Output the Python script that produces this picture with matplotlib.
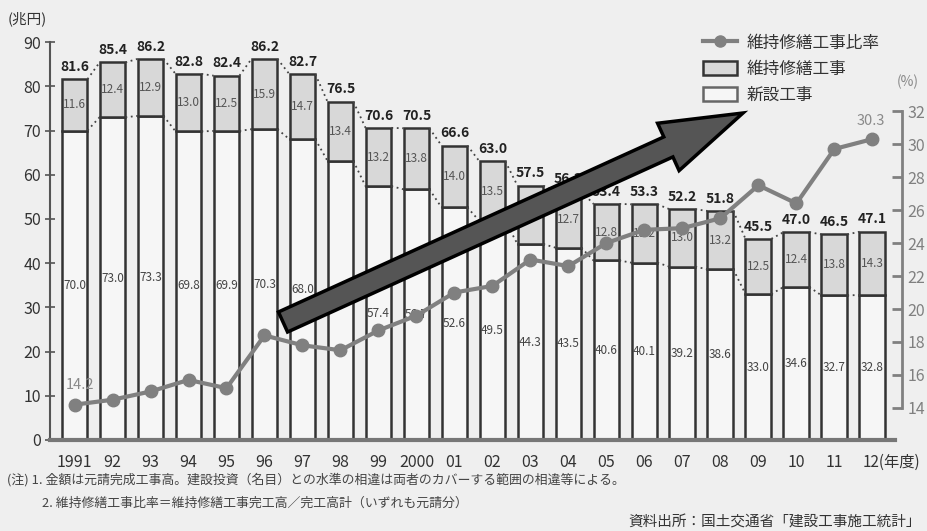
import matplotlib
matplotlib.use('Agg')
import matplotlib.pyplot as plt
from matplotlib.lines import Line2D
from matplotlib.patches import Patch, FancyArrow
from matplotlib.transforms import IdentityTransform

plt.rcParams['font.family'] = ['Noto Sans CJK JP', 'DejaVu Sans']

# 建設工事施工統計 (兆円, 年度)
years = ['1991', '92', '93', '94', '95', '96', '97', '98', '99', '2000',
         '01', '02', '03', '04', '05', '06', '07', '08', '09', '10', '11', '12']
new_build = [70.0, 73.0, 73.3, 69.8, 69.9, 70.3, 68.0, 63.1, 57.4, 56.7, 52.6,
             49.5, 44.3, 43.5, 40.6, 40.1, 39.2, 38.6, 33.0, 34.6, 32.7, 32.8]
maintenance = [11.6, 12.4, 12.9, 13.0, 12.5, 15.9, 14.7, 13.4, 13.2, 13.8, 14.0,
               13.5, 13.2, 12.7, 12.8, 13.2, 13.0, 13.2, 12.5, 12.4, 13.8, 14.3]
totals = [81.6, 85.4, 86.2, 82.8, 82.4, 86.2, 82.7, 76.5, 70.6, 70.5, 66.6,
          63.0, 57.5, 56.2, 53.4, 53.3, 52.2, 51.8, 45.5, 47.0, 46.5, 47.1]
# 維持修繕工事比率 (%)
ratio = [14.2, 14.5, 15.0, 15.7, 15.2, 18.4, 17.8, 17.5, 18.7, 19.6, 21.0,
         21.4, 23.0, 22.6, 24.0, 24.8, 24.9, 25.5, 27.5, 26.4, 29.7, 30.3]

BG = '#efefef'
x = list(range(len(years)))
w = 0.68

fig = plt.figure(figsize=(9.28, 5.31), dpi=100, facecolor=BG)
ax = fig.add_axes([0.0539, 0.1714, 0.9181, 0.766])
ax.set_facecolor('none')

ax.bar(x, new_build, w, color='#f6f6f6', edgecolor='#333333', linewidth=1.8, zorder=2)
ax.bar(x, maintenance, w, bottom=new_build, color='#d8d8d8',
       edgecolor='#333333', linewidth=1.8, zorder=2)

# dotted connectors between neighbouring bars
for i in range(len(x) - 1):
    for a, b in ((totals[i], totals[i + 1]), (new_build[i], new_build[i + 1])):
        ax.plot([i + w / 2, i + 1 - w / 2], [a, b], color='#444444',
                linestyle=(0, (1, 2)), linewidth=1.3, zorder=3)

for i in x:
    ax.text(i, totals[i] + 1.2, f'{totals[i]:.1f}', ha='center', va='bottom',
            fontsize=10, fontweight='bold', color='#222222', zorder=4)
    ax.text(i, new_build[i] / 2, f'{new_build[i]:.1f}', ha='center', va='center',
            fontsize=8.5, color='#444444', zorder=4)
    ax.text(i, new_build[i] + maintenance[i] / 2, f'{maintenance[i]:.1f}',
            ha='center', va='center', fontsize=8.5, color='#555555', zorder=4)

ax.set_xlim(-0.645, 21.78)
ax.set_ylim(0, 92)
ax.set_yticks(range(0, 91, 10))
ax.set_xticks(x)
ax.set_xticklabels(years[:-1] + [''])
for s in ('top', 'right'):
    ax.spines[s].set_visible(False)
ax.spines['left'].set_bounds(0, 90)
ax.spines['left'].set_color('#555555')
ax.spines['left'].set_linewidth(1.5)
ax.spines['bottom'].set_bounds(-0.645, 21.6)
ax.spines['bottom'].set_color('#777777')
ax.spines['bottom'].set_linewidth(3)
ax.tick_params(axis='y', direction='inout', length=7, width=1.2, color='#555555',
               labelsize=11.5, labelcolor='#333333', pad=3)
ax.tick_params(axis='x', length=0, labelsize=11.5, labelcolor='#333333', pad=10)
# last year label carries the unit
ax.text(20.74, -5.0, '12(年度)', fontsize=11, color='#333333', ha='left',
        va='center', clip_on=False)

# ratio on the right-hand scale
ax2 = ax.twinx()
ax2.set_ylim(12.06, 12.06 + 92 * 0.268)
ax2.plot(x, ratio, color='#808080', linewidth=3, marker='o', markersize=9, zorder=5)
ax2.text(x[0] + 0.15, ratio[0] + 0.75, f'{ratio[0]:.1f}', ha='center', va='bottom',
         fontsize=10.5, color='#8a8a8a')
ax2.text(x[-1] - 0.05, ratio[-1] + 0.65, f'{ratio[-1]:.1f}', ha='center', va='bottom',
         fontsize=10.5, color='#8a8a8a')
ax2.set_yticks(range(14, 33, 2))
for s in ('top', 'left', 'bottom'):
    ax2.spines[s].set_visible(False)
ax2.spines['right'].set_bounds(14, 32)
ax2.spines['right'].set_color('#808080')
ax2.spines['right'].set_linewidth(2)
ax2.tick_params(axis='y', direction='in', length=7, width=2, color='#808080',
                labelsize=11.5, labelcolor='#808080', pad=4)

fig.text(0.008, 0.965, '(兆円)', fontsize=10.5, color='#333333', va='center')
fig.text(0.966, 0.845, '(%)', fontsize=10, color='#888888', va='center')

handles = [
    Line2D([], [], color='#808080', linewidth=3, marker='o', markersize=8),
    Patch(facecolor='#d8d8d8', edgecolor='#333333', linewidth=1.8),
    Patch(facecolor='#f6f6f6', edgecolor='#666666', linewidth=1.8),
]
fig.legend(handles, ['維持修繕工事比率', '維持修繕工事', '新設工事'],
           loc='upper left', bbox_to_anchor=(0.758, 0.935), frameon=False,
           fontsize=12, handlelength=2.0, handleheight=0.9, handletextpad=0.6,
           labelspacing=0.55, borderaxespad=0, borderpad=0, labelcolor='#333333')

# trend arrow
arrow = FancyArrow(283, 209, 460, 209, width=22, head_width=52, head_length=82,
                   length_includes_head=True, facecolor='#555555',
                   edgecolor='black', linewidth=2.5, transform=IdentityTransform(),
                   zorder=10)
fig.add_artist(arrow)

fig.text(0.008, 0.097,
         '(注) 1. 金額は元請完成工事高。建設投資（名目）との水準の相違は両者のカバーする範囲の相違等による。',
         fontsize=9.3, color='#444444', va='center')
fig.text(0.045, 0.053,
         '2. 維持修繕工事比率＝維持修繕工事完工高／完工高計（いずれも元請分）',
         fontsize=9.3, color='#444444', va='center')
fig.text(0.992, 0.017, '資料出所：国土交通省「建設工事施工統計」', fontsize=10.5,
         color='#333333', ha='right', va='center')

fig.savefig('out.png', dpi=100, facecolor=BG)
